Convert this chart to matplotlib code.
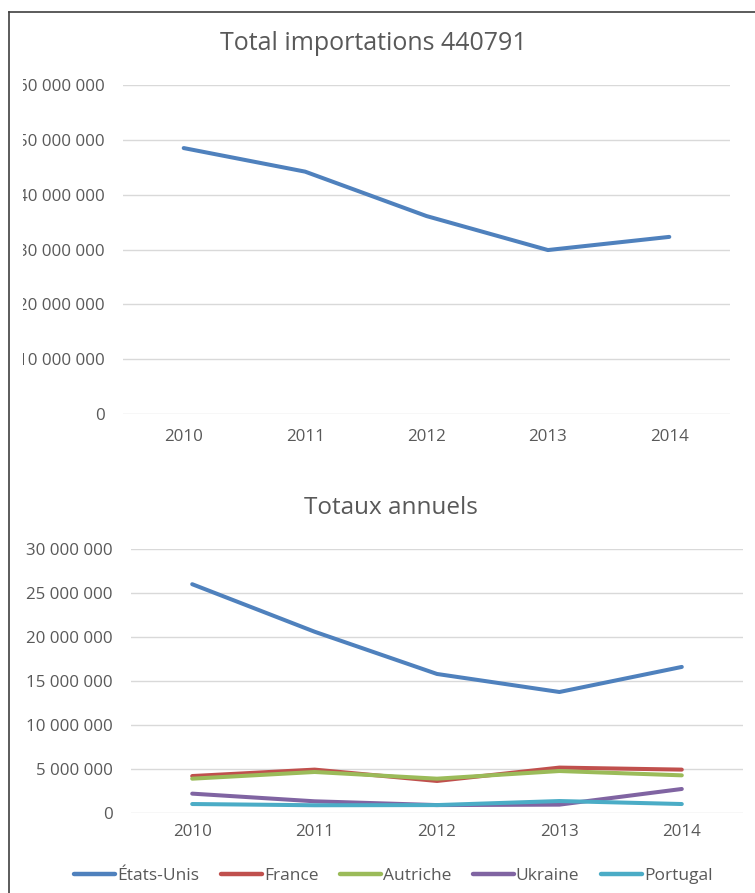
import matplotlib
matplotlib.use('Agg')
import matplotlib.pyplot as plt
from matplotlib.patches import Rectangle
from matplotlib.lines import Line2D
from matplotlib.ticker import FuncFormatter

# Data
years = ['2010', '2011', '2012', '2013', '2014']
total_imports = [48.5e6, 44.2e6, 36.1e6, 29.9e6, 32.3e6]

countries = ['États-Unis', 'France', 'Autriche', 'Ukraine', 'Portugal']
etats_unis = [26.0e6, 20.6e6, 15.8e6, 13.75e6, 16.6e6]
france = [4.2e6, 4.93e6, 3.64e6, 5.16e6, 4.93e6]
autriche = [3.9e6, 4.66e6, 3.9e6, 4.77e6, 4.28e6]
ukraine = [2.2e6, 1.33e6, 0.9e6, 0.95e6, 2.73e6]
portugal = [1.02e6, 0.88e6, 0.9e6, 1.36e6, 1.02e6]
colors = ['#4F81BD', '#C0504D', '#9BBB59', '#8064A2', '#4BACC6']

plt.rcParams['font.family'] = ['Open Sans', 'DejaVu Sans']
text_color = '#595959'
grid_color = '#D9D9D9'

W, H = 755, 893
fig = plt.figure(figsize=(W / 100, H / 100), dpi=100)


def fig_box(x0, y0, x1, y1):
    """pixel box (top-left origin) -> figure fraction rect"""
    return [x0 / W, 1 - y1 / H, (x1 - x0) / W, (y1 - y0) / H]


def style_axis(ax, ymax, ystep, xpad):
    x = list(range(len(years)))
    ax.set_xlim(-0.5, len(years) - 0.5)
    ax.set_ylim(0, ymax)
    ax.set_yticks([i * ystep for i in range(int(ymax / ystep) + 1)])
    ax.yaxis.set_major_formatter(FuncFormatter(lambda v, p: f"{int(v):,}".replace(',', ' ')))
    ax.set_xticks(x)
    ax.set_xticklabels(years)
    ax.yaxis.grid(True, color=grid_color, lw=1.0)
    ax.set_axisbelow(True)
    for s in ax.spines.values():
        s.set_visible(False)
    ax.tick_params(axis='y', length=0, pad=13, labelsize=12.2, labelcolor=text_color)
    ax.tick_params(axis='x', length=0, pad=xpad, labelsize=12.2, labelcolor=text_color)
    return x


# Top chart: total imports
ax1 = fig.add_axes(fig_box(123, 85, 730, 414))
x = style_axis(ax1, 60e6, 10e6, 11)
ax1.plot(x, total_imports, color=colors[0], lw=2.9,
         solid_capstyle='round', solid_joinstyle='round')
fig.text(373 / W, 1 - 43 / H, 'Total importations 440791', ha='center', va='center',
         fontsize=18, color=text_color)

# Bottom chart: yearly totals per country
ax2 = fig.add_axes(fig_box(131, 549, 743, 813))
x = style_axis(ax2, 30e6, 5e6, 8)
series = [etats_unis, france, autriche, ukraine, portugal]
for name, vals, c in zip(countries, series, colors):
    ax2.plot(x, vals, color=c, lw=2.9, label=name,
             solid_capstyle='round', solid_joinstyle='round')
fig.text(391 / W, 1 - 508 / H, 'Totaux annuels', ha='center', va='center',
         fontsize=17.5, color=text_color)

leg = fig.legend(*ax2.get_legend_handles_labels(), loc='center', ncol=5,
                 bbox_to_anchor=(393.5 / W, 1 - 876 / H), frameon=False,
                 fontsize=12.5, handlelength=2.36, handletextpad=0.1,
                 columnspacing=1.26, labelcolor=text_color)
for h in leg.get_lines():
    h.set_linewidth(3.2)
    h.set_solid_capstyle('round')

# left part of the top chart's y labels is cut off in the original
fig.add_artist(Rectangle((9.5 / W, 1 - 425 / H), 13.5 / W, 355 / H,
                         transform=fig.transFigure, facecolor='white',
                         edgecolor='none', zorder=10))

# frame edges (left and top)
fig.add_artist(Line2D([8.5 / W, 8.5 / W], [0, 1 - 11.5 / H], transform=fig.transFigure,
                      color='#404040', lw=1.2, zorder=11))
fig.add_artist(Line2D([8.5 / W, 1], [1 - 11.5 / H, 1 - 11.5 / H], transform=fig.transFigure,
                      color='#404040', lw=1.2, zorder=11))

fig.savefig('out.png', dpi=100, facecolor='white')
